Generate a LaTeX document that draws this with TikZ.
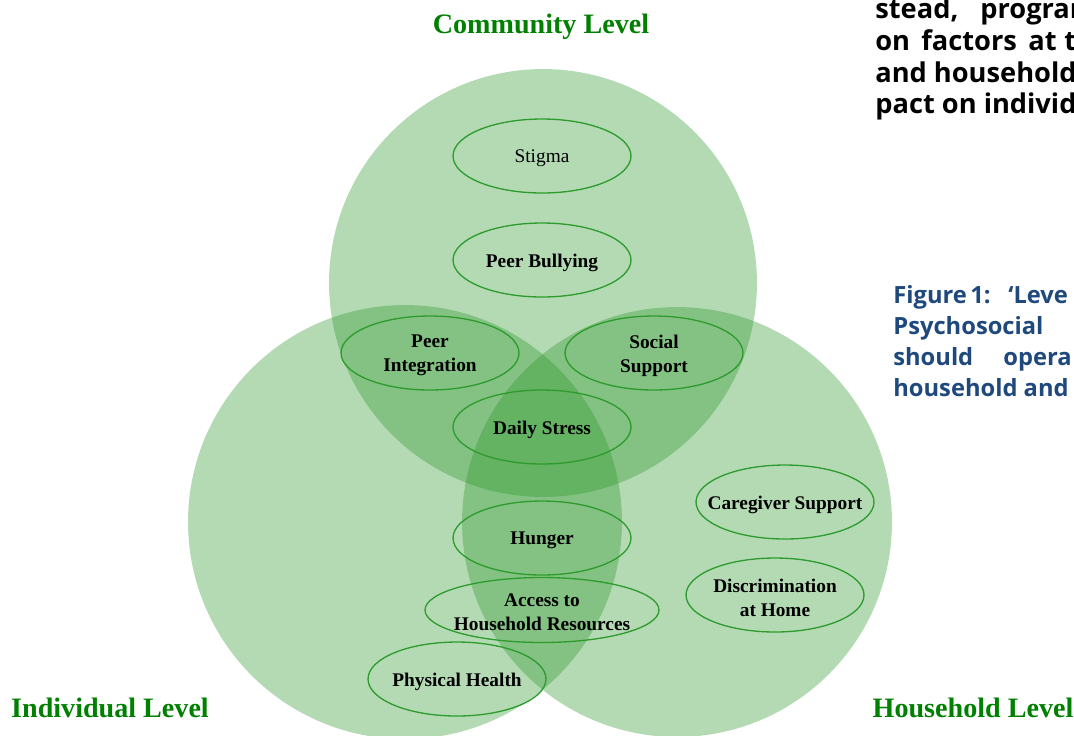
\documentclass[tikz,border=0pt]{standalone}
\usepackage{fontspec}
\setmainfont{Liberation Serif}
\newfontfamily\bodyfont{Open Sans}
\usetikzlibrary{shapes.geometric}
\definecolor{vennfill}{RGB}{40,150,40}
\definecolor{ovalline}{RGB}{45,155,45}
\definecolor{levelgreen}{RGB}{0,128,0}
\definecolor{captionblue}{RGB}{31,73,125}
\tikzset{venn/.style={circle,draw=none,fill=vennfill,fill opacity=0.35,
   minimum size=#1,inner sep=0},
 factor/.style={ellipse,draw=ovalline,line width=0.75pt,
   minimum width=3.56cm,minimum height=1.48cm,inner sep=0,
   label={[factorlbl]center:#1}},
 factorlbl/.style={align=center,inner sep=0,yshift=-0.05cm,
   font=\fontsize{11}{13.7}\selectfont\bfseries},
 level/.style={text=levelgreen,inner sep=0,
   font=\fontsize{16}{18}\selectfont\bfseries},
 bodytext/.style={anchor=base west,inner sep=0,
   font=\bodyfont\fontsize{15.5}{18}\selectfont\bfseries},
 captiontext/.style={anchor=base west,inner sep=0,text=captionblue,
   font=\bodyfont\fontsize{13.5}{16}\selectfont\bfseries},
 }

\begin{document}
\begin{tikzpicture}[x=0.02cm,y=-0.02cm]
        \useasboundingbox (0,0) rectangle (1074,735);
        \clip (0,0) rectangle (1074,735);

        % the three levels
        \node[venn=8.56cm] (community) at (543,283) {};
        \node[venn=8.68cm] (individual) at (405,522) {};
        \node[venn=8.60cm] (household) at (677,522) {};

        \node[level] (communitylbl) at (541,27) {Community Level};
        \node[level] (individuallbl) at (110,708) {Individual Level};
        \node[level] (householdlbl) at (973,708) {Household Level};

        % factors
        \node[factor={\mdseries Stigma}] (stigma) at (542,156) {};
        \node[factor={Peer Bullying}] (bullying) at (542,260) {};
        \node[factor={Peer\\Integration}] (integration) at (430,353) {};
        \node[factor={Social\\Support}] (support) at (654,353) {};
        \node[factor={Daily Stress}] (stress) at (542,427) {};
        \node[factor={Caregiver Support}] (caregiver) at (785,502) {};
        \node[factor={Hunger}] (hunger) at (542,538) {};
        \node[factor={Discrimination\\at Home}] (discrimination) at (775,595) {};
        \node[factor={Access to\\Household Resources},minimum width=4.68cm,
            minimum height=1.3cm] (access) at (542,610) {};
        \node[factor={Physical Health}] (health) at (457,679) {};

        % surrounding page text
        \node[bodytext] (w1) at (875,18) {stead,};
        \node[bodytext] (w2) at (980,18) {program};
        \node[bodytext] (w3) at (875,50) {on};
        \node[bodytext] (w4) at (921,50) {factors};
        \node[bodytext] (w5) at (1028,50) {at};
        \node[bodytext] (w6) at (1064,50) {t};
        \node[bodytext] (w7) at (875,82) {and household};
        \node[bodytext] (w8) at (875,113) {pact on individ};

        \node[captiontext] (c1) at (893,303) {Figure};
        \node[captiontext] (c2) at (970,303) {1:};
        \node[captiontext] (c3) at (1008,303) {‘Leve};
        \node[captiontext] (c4) at (893,334) {Psychosocial};
        \node[captiontext] (c5) at (893,365) {should};
        \node[captiontext] (c6) at (1003,365) {opera};
        \node[captiontext] (c7) at (893,396) {household and};
    \end{tikzpicture}
\end{document}
